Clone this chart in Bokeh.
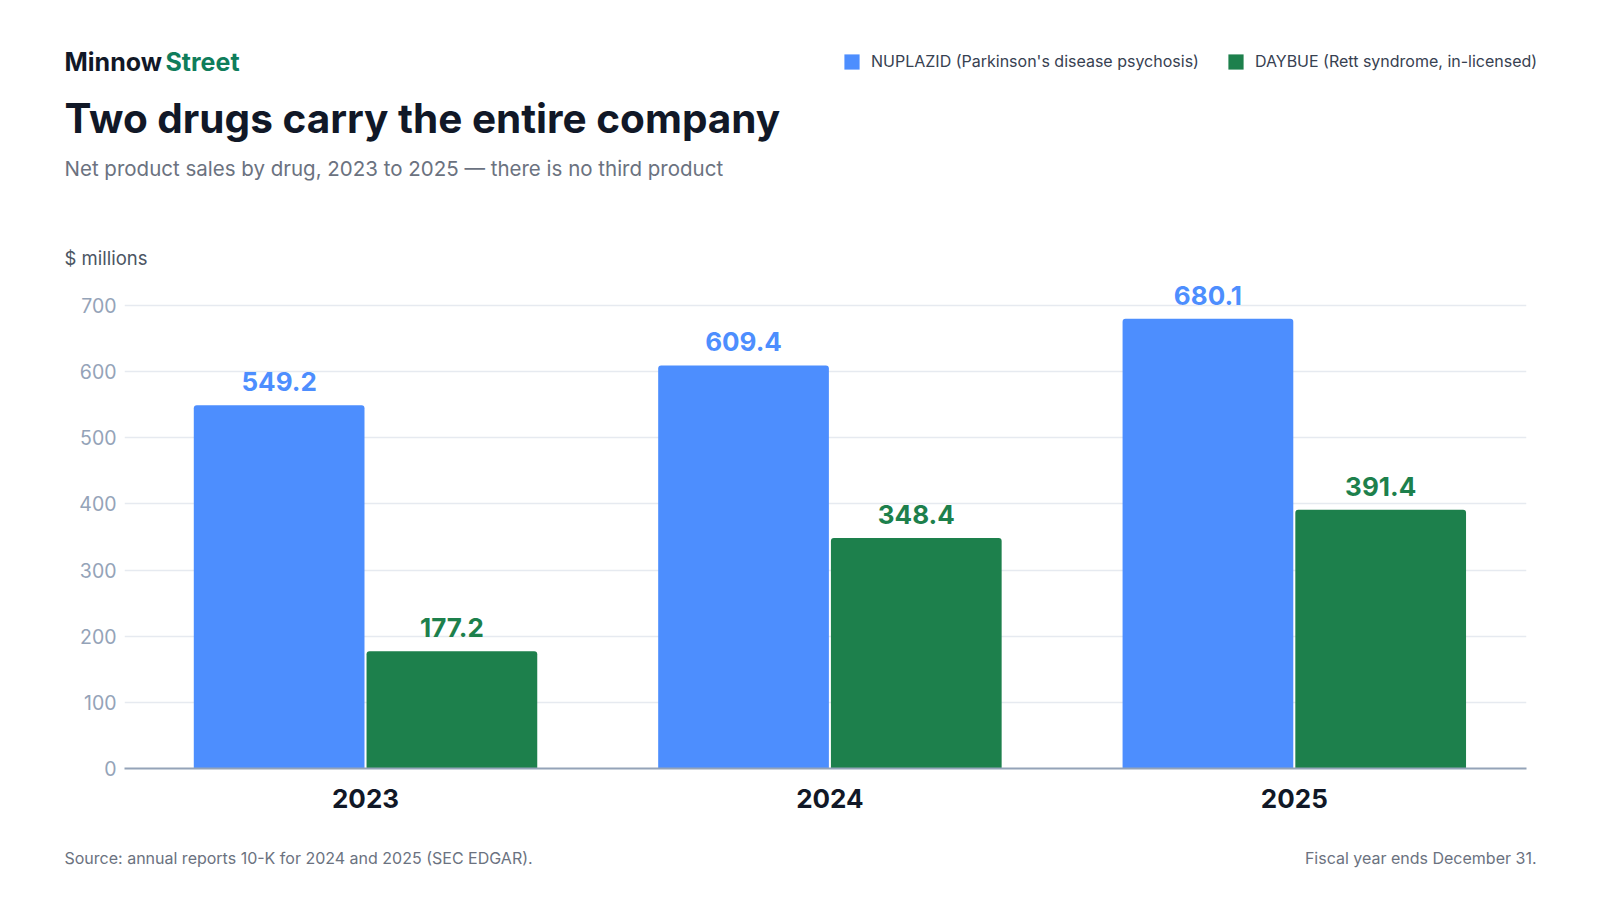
from bokeh.plotting import figure
from bokeh.layouts import column
from bokeh.models import (ColumnDataSource, LabelSet, Label, Legend, LegendItem,
                          FixedTicker, Range1d)
from bokeh.core.properties import value
from bokeh.embed import file_html
from bokeh.resources import INLINE

# ---- data ----
years = ["2023", "2024", "2025"]
nuplazid = [549.2, 609.4, 680.1]
daybue = [177.2, 348.4, 391.4]
y_ticks = [0, 100, 200, 300, 400, 500, 600, 700]
series_names = ["NUPLAZID (Parkinson's disease psychosis)", "DAYBUE (Rett syndrome, in-licensed)"]

BLUE = "#4d8efe"
GREEN = "#1d804c"
DARK = "#111827"
FONT = "Inter"
W = 1600
HEAD_H, CHART_H, FOOT_H = 270, 558, 72
FRAME_H = 498          # chart frame from page y 270 to the x axis at ~768
Y_END = 753


def blank(h):
    f = figure(width=W, height=h, output_backend="svg", toolbar_location=None,
               x_range=Range1d(0, W), y_range=Range1d(h, 0),
               min_border=0, min_border_left=0, min_border_right=0,
               min_border_top=0, min_border_bottom=0)
    f.axis.visible = False
    f.grid.visible = False
    f.outline_line_color = None
    f.frame_align = False
    return f


def txt(f, text, x, y, size, color, style="normal", align="left"):
    f.add_layout(Label(x=x, y=y, text=text, text_font=FONT, text_font_size=size,
                       text_color=color, text_font_style=style, text_align=align,
                       text_baseline="middle"))


# ---- header ----
head = blank(HEAD_H)
txt(head, "Minnow", 64, 61, "25px", DARK, "bold")
txt(head, "Street", 165, 61, "25px", "#0f7d5b", "bold")
txt(head, "Two drugs carry the entire company", 64, 118, "40.5px", DARK, "bold")
txt(head, "Net product sales by drug, 2023 to 2025 \u2014 there is no third product",
    64, 168, "20.5px", "#6b7280")
txt(head, "$ millions", 64, 257, "18.5px", "#4b5563")

# off-canvas samples that only feed the legend swatches
swatch = ColumnDataSource(dict(x=[-500], top=[-500]))
la = head.vbar(x="x", top="top", width=1, source=swatch, fill_color=BLUE,
               line_color=None, border_radius=3)
lb = head.vbar(x="x", top="top", width=1, source=swatch, fill_color=GREEN,
               line_color=None, border_radius=3)
legend = Legend(items=[LegendItem(label=series_names[0], renderers=[la]),
                       LegendItem(label=series_names[1], renderers=[lb])],
                orientation="horizontal", location=(842, HEAD_H - 71),
                glyph_width=19, glyph_height=19, label_standoff=10, spacing=27,
                padding=0, margin=0, border_line_color=None,
                background_fill_alpha=0,
                label_text_font=FONT, label_text_font_size="16px",
                label_text_color="#374151", label_height=19)
head.add_layout(legend, "center")

# ---- chart ----
p = figure(width=W, height=CHART_H, output_backend="svg", toolbar_location=None,
           x_range=Range1d(-0.519, 2.5), y_range=Range1d(0, Y_END),
           min_border_left=124, min_border_right=74, min_border_top=0,
           min_border_bottom=CHART_H - FRAME_H)
p.outline_line_color = None
p.frame_align = False

xs = list(range(len(years)))
off = 0.186
bw = 0.3676
src_a = ColumnDataSource(dict(x=[x - off for x in xs], top=nuplazid,
                              lab=[f"{v:.1f}" for v in nuplazid]))
src_b = ColumnDataSource(dict(x=[x + off for x in xs], top=daybue,
                              lab=[f"{v:.1f}" for v in daybue]))

p.vbar(x="x", top="top", width=bw, source=src_a, fill_color=BLUE,
       line_color=None, border_radius=(3, 3, 0, 0))
p.vbar(x="x", top="top", width=bw, source=src_b, fill_color=GREEN,
       line_color=None, border_radius=(3, 3, 0, 0))

for src, col in ((src_a, BLUE), (src_b, GREEN)):
    p.add_layout(LabelSet(x="x", y="top", text="lab", source=src, y_offset=14,
                          text_align="center", text_baseline="alphabetic",
                          text_font=value(FONT), text_font_style="bold",
                          text_font_size="26px", text_color=col))

p.xaxis.ticker = FixedTicker(ticks=xs)
p.xaxis.major_label_overrides = {i: y for i, y in enumerate(years)}
p.xaxis.major_label_text_font = FONT
p.xaxis.major_label_text_font_style = "bold"
p.xaxis.major_label_text_font_size = "26px"
p.xaxis.major_label_text_color = DARK
p.xaxis.major_label_standoff = 20
p.xaxis.axis_line_color = "#94a3b8"
p.xaxis.axis_line_width = 2
p.xaxis.major_tick_line_color = None
p.xaxis.major_tick_out = 0
p.xaxis.major_tick_in = 0
p.xaxis.minor_tick_line_color = None

p.yaxis.ticker = FixedTicker(ticks=y_ticks)
p.yaxis.major_label_text_font = FONT
p.yaxis.major_label_text_font_size = "19.5px"
p.yaxis.major_label_text_color = "#94a3b8"
p.yaxis.major_label_standoff = 8
p.yaxis.axis_line_color = None
p.yaxis.major_tick_line_color = None
p.yaxis.major_tick_out = 0
p.yaxis.major_tick_in = 0
p.yaxis.minor_tick_line_color = None

p.xgrid.grid_line_color = None
p.ygrid.ticker = FixedTicker(ticks=y_ticks[1:])
p.ygrid.grid_line_color = "#e6eaf0"
p.ygrid.grid_line_width = 1.5

# ---- footer ----
foot = blank(FOOT_H)
txt(foot, "Source: annual reports 10-K for 2024 and 2025 (SEC EDGAR).", 64, 29,
    "16px", "#6b7280")
txt(foot, "Fiscal year ends December 31.", 1536, 29, "16px", "#6b7280", align="right")

layout = column(head, p, foot, spacing=0)
open("out.html", "w").write(file_html(layout, INLINE))
